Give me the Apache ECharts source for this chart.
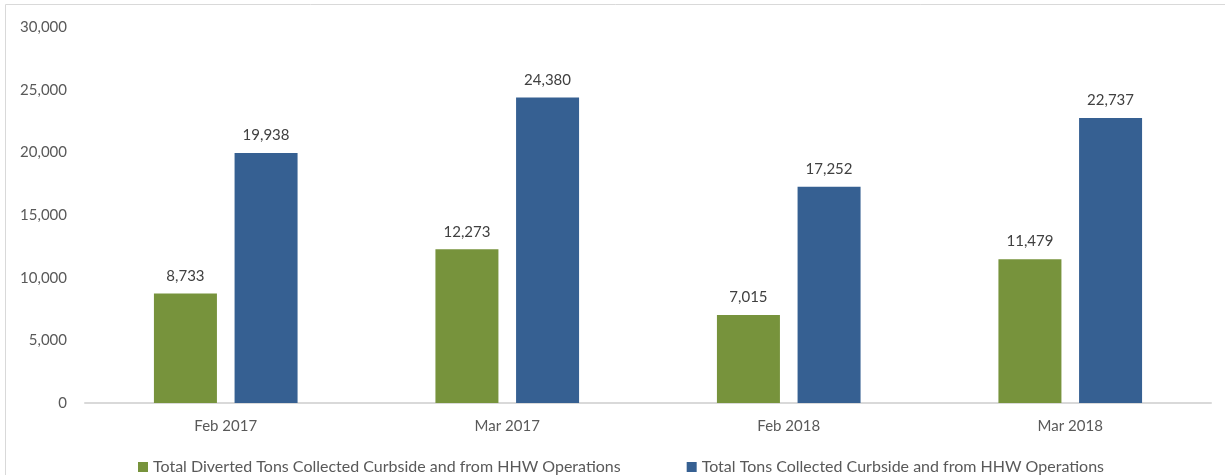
<!DOCTYPE html>
<html>
<head>
<meta charset="utf-8">
<script src="https://cdn.jsdelivr.net/npm/echarts@6/dist/echarts.min.js"></script>
<style>html,body{margin:0;padding:0;background:#fff}#c{width:1225px;height:475px}</style>
</head>
<body>
<div id="c"></div>
<script>
const categories = ['Feb 2017', 'Mar 2017', 'Feb 2018', 'Mar 2018'];
const divertedTons = [8733, 12273, 7015, 11479];
const totalTons = [19938, 24380, 17252, 22737];
const seriesNames = ['Total Diverted Tons Collected Curbside and from HHW Operations', 'Total Tons Collected Curbside and from HHW Operations'];

const FONT = 'Lato';
const chart = echarts.init(document.getElementById('c'));
const fmt = v => v.toLocaleString('en-US');
chart.setOption({
  animation: false,
  textStyle: { fontFamily: FONT },
  graphic: [{
    type: 'rect', silent: true,
    shape: { x: 5.5, y: 4.5, width: 1400, height: 700 },
    style: { fill: 'none', stroke: '#d9d9d9', lineWidth: 1 }
  }],
  grid: { left: 85, right: 14, top: 27, bottom: 72, containLabel: false },
  legend: {
    top: 454, left: 133, itemWidth: 10, itemHeight: 10, itemGap: 66,
    icon: 'rect',
    textStyle: { fontFamily: FONT, fontSize: 16, color: '#595959' },
    data: seriesNames
  },
  xAxis: {
    type: 'category', data: categories,
    axisLine: { lineStyle: { color: '#d9d9d9', width: 2 } },
    axisTick: { show: false },
    axisLabel: { fontFamily: FONT, fontSize: 15, color: '#595959', margin: 16 }
  },
  yAxis: {
    type: 'value', min: 0, max: 30000, interval: 5000,
    splitLine: { show: false },
    axisLine: { show: false }, axisTick: { show: false },
    axisLabel: { fontFamily: FONT, fontSize: 15, color: '#595959', margin: 18, formatter: fmt }
  },
  series: [
    {
      name: seriesNames[0], type: 'bar', data: divertedTons,
      barWidth: 63, barGap: '28%',
      itemStyle: { color: '#77933c' },
      label: { show: true, position: 'top', distance: 10, fontFamily: FONT, fontSize: 15, color: '#404040', formatter: p => fmt(p.value) }
    },
    {
      name: seriesNames[1], type: 'bar', data: totalTons,
      barWidth: 63, barGap: '28%',
      itemStyle: { color: '#366092' },
      label: { show: true, position: 'top', distance: 10, fontFamily: FONT, fontSize: 15, color: '#404040', formatter: p => fmt(p.value) }
    }
  ]
});
</script>
</body>
</html>
